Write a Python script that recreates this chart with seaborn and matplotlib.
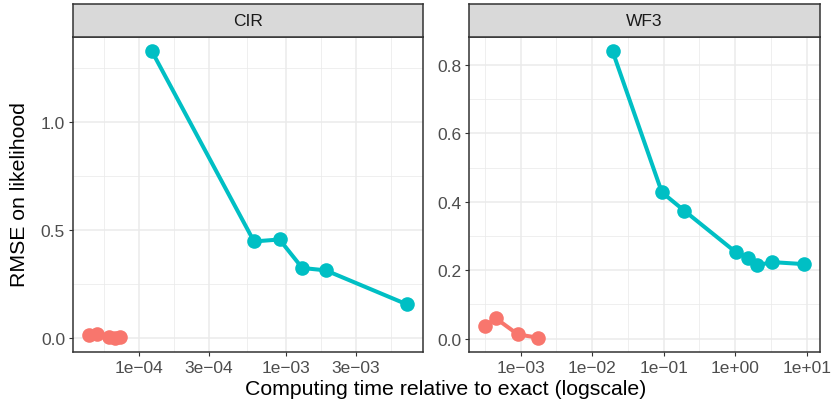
import numpy as np
import pandas as pd
import matplotlib
matplotlib.use("Agg")
import matplotlib.pyplot as plt
import seaborn as sns

# Computing time (relative to exact) and RMSE on likelihood, per model and method
cir_fast_time = [4.58e-5, 5.22e-5, 6.26e-5, 6.9e-5, 7.43e-5]
cir_fast_rmse = [0.014, 0.018, 0.003, 0.0, 0.003]
cir_slow_time = [1.23e-4, 6.1e-4, 9.1e-4, 1.30e-3, 1.88e-3, 6.73e-3]
cir_slow_rmse = [1.327, 0.446, 0.455, 0.323, 0.312, 0.154]

wf3_fast_time = [3.18e-4, 4.48e-4, 9.17e-4, 1.74e-3]
wf3_fast_rmse = [0.036, 0.060, 0.0126, 0.003]
wf3_slow_time = [0.01936, 0.0946, 0.195, 1.02, 1.53, 2.04, 3.24, 9.2]
wf3_slow_rmse = [0.840, 0.428, 0.374, 0.253, 0.237, 0.214, 0.224, 0.218]

panels = ["CIR", "WF3"]
methods = ["fast", "slow"]
palette = {"fast": "#F8766D", "slow": "#00BFC4"}

x_breaks = {
    "CIR": [1e-4, 3e-4, 1e-3, 3e-3],
    "WF3": [1e-3, 1e-2, 1e-1, 1e0, 1e1],
}
x_labels = {
    "CIR": ["1e\u221204", "3e\u221204", "1e\u221203", "3e\u221203"],
    "WF3": ["1e\u221203", "1e\u221202", "1e\u221201", "1e+00", "1e+01"],
}
y_breaks = {
    "CIR": [0.0, 0.5, 1.0],
    "WF3": [0.0, 0.2, 0.4, 0.6, 0.8],
}

frames = []
for panel, series in [
    ("CIR", [("fast", cir_fast_time, cir_fast_rmse), ("slow", cir_slow_time, cir_slow_rmse)]),
    ("WF3", [("fast", wf3_fast_time, wf3_fast_rmse), ("slow", wf3_slow_time, wf3_slow_rmse)]),
]:
    for method, t, r in series:
        frames.append(pd.DataFrame({"panel": panel, "method": method, "time": t, "rmse": r}))
df = pd.concat(frames, ignore_index=True)

sns.set_theme(style="white")
plt.rcParams["font.family"] = ["Liberation Sans", "DejaVu Sans"]

W, H = 831, 406
fig = plt.figure(figsize=(W / 100, H / 100), dpi=100)

border = "#333333"
grid_col = "#EBEBEB"
tick_col = "#4D4D4D"

panel_boxes = {"CIR": (73, 423), "WF3": (469, 820)}
top, bottom, strip_top = 38, 353, 5


def minor_breaks(major_log, lo, hi):
    b = list(major_log)
    bd = b[1] - b[0]
    if lo < b[0]:
        b = [b[0] - bd] + b
    if hi > b[-1]:
        b = b + [b[-1] + bd]
    mids = [(b[i] + b[i + 1]) / 2 for i in range(len(b) - 1)]
    return [m for m in mids if lo <= m <= hi]


def minor_y(major, lo, hi):
    step = major[1] - major[0]
    vals = np.arange(major[0] - step / 2, hi + step, step)
    return [v for v in vals if lo <= v <= hi]


for panel in panels:
    x0, x1 = panel_boxes[panel]
    ax = fig.add_axes([x0 / W, 1 - bottom / H, (x1 - x0) / W, (bottom - top) / H])
    sub = df[df.panel == panel].sort_values("time")

    sns.lineplot(data=sub, x="time", y="rmse", hue="method", palette=palette,
                 hue_order=methods, units="method", estimator=None, sort=True,
                 lw=2.9, marker="o", markersize=10.5, markeredgewidth=0,
                 legend=False, ax=ax, zorder=3)
    ax.set_xscale("log")

    # ggplot-like 5% expansion in transformed space
    lt = np.log10(sub.time.values)
    span = lt.max() - lt.min()
    xlo, xhi = lt.min() - 0.05 * span, lt.max() + 0.05 * span
    ax.set_xlim(10 ** xlo, 10 ** xhi)
    ymin, ymax = sub.rmse.min(), sub.rmse.max()
    ys = ymax - ymin
    ylo, yhi = ymin - 0.05 * ys, ymax + 0.05 * ys
    ax.set_ylim(ylo, yhi)

    ax.set_xticks(x_breaks[panel])
    ax.set_xticklabels(x_labels[panel])
    ax.set_xticks([10 ** m for m in minor_breaks(np.log10(x_breaks[panel]), xlo, xhi)], minor=True)
    ax.set_xticklabels([], minor=True)
    ax.set_yticks(y_breaks[panel])
    ax.set_yticklabels([f"{v:.1f}" for v in y_breaks[panel]])
    ax.set_yticks(minor_y(y_breaks[panel], ylo, yhi), minor=True)

    ax.grid(True, which="major", color=grid_col, lw=1.1, zorder=0)
    ax.grid(True, which="minor", color=grid_col, lw=0.55, zorder=0)
    ax.set_axisbelow(True)
    ax.tick_params(which="major", length=3.2, width=0.8, color=border,
                   labelcolor=tick_col, labelsize=12.5, pad=2.5,
                   bottom=True, left=True)
    ax.tick_params(which="minor", length=0, bottom=False, left=False)
    for s in ax.spines.values():
        s.set_color(border)
        s.set_linewidth(1.1)
    ax.set_xlabel("")
    ax.set_ylabel("")

    # facet strip
    sax = fig.add_axes([x0 / W, 1 - top / H, (x1 - x0) / W, (top - strip_top) / H])
    sax.set_facecolor("#D9D9D9")
    sax.set_xticks([])
    sax.set_yticks([])
    for s in sax.spines.values():
        s.set_color(border)
        s.set_linewidth(1.1)
    sax.text(0.5, 0.5, panel, ha="center", va="center", fontsize=12.5,
             color="#1A1A1A", transform=sax.transAxes)

fig.text(446 / W, 1 - 390 / H, "Computing time relative to exact (logscale)",
         ha="center", va="center", fontsize=15.3, color="black")
fig.text(20 / W, 1 - 195 / H, "RMSE on likelihood", ha="center", va="center",
         rotation=90, fontsize=15.3, color="black")

fig.savefig("out.png", dpi=100)
